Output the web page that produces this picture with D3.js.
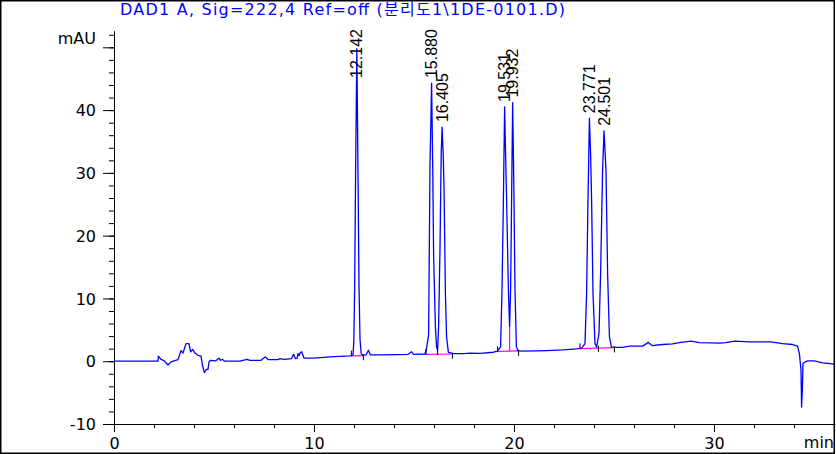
<!DOCTYPE html>
<html>
<head>
<meta charset="utf-8">
<script src="https://cdn.jsdelivr.net/npm/d3@7"></script>
<style>
  body { margin: 0; background: #fff; }
  svg { display: block; }
</style>
</head>
<body>
<svg id="chart" width="836" height="454"></svg>
<script>
// Chromatogram trace: [time (min), signal (mAU)]
const trace = [
    [0, 0], [2.2, 0], [2.22, 0.8], [2.35, 0.3], [2.5, 0.1], [2.7, -0.6], [2.85, -0.1], [3.2, 0.25],
    [3.35, 1.7], [3.45, 1.3], [3.6, 2.8], [3.75, 2.8], [3.83, 1.5], [3.93, 1.9], [4.05, 1.3], [4.2, 0.95],
    [4.35, 0.8], [4.42, -0.6], [4.52, -1.8], [4.62, -1.3], [4.7, -1.3], [4.75, -0.1], [4.83, 0.15],
    [5.08, 0.05], [5.25, 0.5], [5.33, 0.15], [5.42, 0.3], [5.53, 0], [6.3, 0], [6.65, 0.3], [6.8, 0.15],
    [7.35, 0.15], [7.57, 0.7], [7.7, 0.27], [8.2, 0.27], [8.3, 0.4], [8.5, 0.3], [8.87, 0.4], [8.98, 1.1],
    [9.07, 0.4], [9.15, 0.45], [9.2, 1.2], [9.26, 0.9], [9.3, 1.3], [9.38, 1.5], [9.5, 0.5], [10.0, 0.5],
    [10.8, 0.7], [11.8, 0.85],
    [11.95, 1.0], [11.99, 3], [12.03, 11], [12.08, 30], [12.142, 49.8], [12.2, 30], [12.25, 12],
    [12.3, 3.5], [12.36, 1.2], [12.45, 0.95],
    [12.6, 1.0], [12.72, 1.75], [12.82, 1.0], [13.3, 1.0], [14.1, 1.05], [14.7, 1.1], [14.88, 1.5],
    [14.98, 1.1], [15.55, 1.15],
    [15.63, 2.1], [15.73, 4.2], [15.8, 31], [15.88, 44.3], [15.94, 30], [15.98, 17], [16.07, 5.5],
    [16.13, 2.2], [16.18, 1.8], [16.23, 5.5], [16.3, 18], [16.36, 33], [16.405, 37.3], [16.46, 33],
    [16.5, 27.8], [16.57, 10.8], [16.63, 3.8], [16.72, 1.4], [16.97, 1.2],
    [17.5, 1.22], [17.8, 1.3], [18.3, 1.25], [18.97, 1.43], [19.17, 1.6],
    [19.33, 2.3], [19.4, 11.3], [19.47, 25.7], [19.531, 40.5], [19.58, 33], [19.63, 25.7], [19.72, 11.3],
    [19.78, 5.5], [19.83, 11.3], [19.88, 25.7], [19.932, 41.2], [19.97, 33], [20.0, 25.7], [20.05, 11.3],
    [20.12, 2.3], [20.2, 1.7], [20.38, 1.6],
    [21.13, 1.65], [21.63, 1.7], [22.47, 1.8], [23.13, 1.97], [23.38, 2.1],
    [23.55, 2.8], [23.63, 10.8], [23.7, 25.7], [23.771, 38.7], [23.83, 33], [23.88, 25.7], [23.95, 10.8],
    [24.05, 2.8], [24.13, 2.3], [24.25, 4.4], [24.33, 14], [24.43, 30.4], [24.501, 36.7], [24.6, 30.4],
    [24.68, 14], [24.77, 3.9], [24.87, 2.3], [25.1, 2.2], [25.43, 2.2], [25.77, 2.4],
    [26.43, 2.4], [26.72, 3.0], [26.9, 2.5], [27.43, 2.66], [27.93, 2.76], [28.27, 2.97], [28.85, 3.19],
    [29.27, 2.97], [30.27, 2.87], [30.6, 2.97], [31.02, 3.19], [31.77, 3.08], [32.85, 3.08], [33.43, 2.81],
    [33.93, 2.66], [34.18, 2.4], [34.27, 1.22], [34.35, -1.43], [34.38, -7.3], [34.42, -4.35],
    [34.45, -0.37], [34.57, -0.1], [34.68, 0.05], [35.02, 0.05], [35.43, -0.26], [36.1, -0.48]
];

// Retention times printed above the peaks and their apex heights
const peakTimes = ["12.142", "15.880", "16.405", "19.531", "19.932", "23.771", "24.501"];
const peakHeights = [49.8, 44.3, 37.3, 40.5, 41.2, 38.7, 36.7];

// Integration baselines (magenta) and drop lines between split peaks
const baselines = [
    [[11.87, 0.85], [12.45, 0.9]],
    [[15.6, 1.1], [16.92, 1.15]],
    [[19.18, 1.55], [20.23, 1.65]],
    [[23.3, 2.0], [25.02, 2.15]]
];
const dropLines = [[19.78, 5.5, 1.6], [24.13, 2.3, 2.07]];

// Peak start (tick up) and end / valley (tick down) marks
const startMarks = [[11.87, 0.9], [15.6, 1.15], [19.18, 1.6], [23.3, 2.05]];
const endMarks = [[12.47, 0.95], [16.18, 1.8], [16.92, 1.2], [20.23, 1.65], [24.22, 2.3], [25.02, 2.2]];

// Axis ticks
const yMajor = [-10, 0, 10, 20, 30, 40, 50];
const yLabels = [-10, 0, 10, 20, 30, 40];
const yMinor = d3.range(-10, 53, 2);
const xMajor = [0, 10, 20, 30];
const xMinor = d3.range(0, 37, 2);

const titleText = "DAD1 A, Sig=222,4 Ref=off (분리도1\\1DE-0101.D)";

const width = 836, height = 454;
const font = "'DejaVu Sans', 'Noto Sans CJK KR', sans-serif";

const svg = d3.select("#chart");

svg.append("rect")
    .attr("x", 0).attr("y", 0)
    .attr("width", width).attr("height", height)
    .attr("fill", "#fff");

const x = d3.scaleLinear().domain([0, 36.05]).range([114, 835]);
const y = d3.scaleLinear().domain([-10, 52.6]).range([424, 31]);

// title
svg.append("text")
    .attr("x", 120)
    .attr("y", 15)
    .attr("font-family", font)
    .attr("font-size", "16px")
    .attr("fill", "#0000ff")
    .attr("textLength", 445)
    .attr("lengthAdjust", "spacing")
    .text(titleText);

// y axis: minor ticks, then major ticks with labels
svg.append("g")
    .attr("transform", "translate(114,0)")
    .call(d3.axisLeft(y).tickValues(yMinor).tickSize(5).tickSizeOuter(0).tickFormat(""))
    .call(g => g.select(".domain").attr("stroke", "#000"));

const yAxis = svg.append("g")
    .attr("transform", "translate(114,0)")
    .call(d3.axisLeft(y).tickValues(yMajor).tickSize(11).tickSizeOuter(0).tickPadding(7)
        .tickFormat(d => yLabels.includes(d) ? d : ""));
yAxis.selectAll("text")
    .attr("font-family", font)
    .attr("font-size", "16px")
    .attr("fill", "#000")
    .attr("dy", "0.36em");

svg.append("text")
    .attr("x", 96)
    .attr("y", 44)
    .attr("text-anchor", "end")
    .attr("font-family", font)
    .attr("font-size", "16px")
    .text("mAU");

// x axis
svg.append("g")
    .attr("transform", "translate(0,424)")
    .call(d3.axisBottom(x).tickValues(xMinor).tickSize(4).tickSizeOuter(0).tickFormat(""));

const xAxis = svg.append("g")
    .attr("transform", "translate(0,424)")
    .call(d3.axisBottom(x).tickValues(xMajor).tickSize(8).tickSizeOuter(0).tickPadding(6));
xAxis.selectAll("text")
    .attr("font-family", font)
    .attr("font-size", "16px")
    .attr("fill", "#000");
xAxis.select(".domain").remove();

svg.append("text")
    .attr("x", 834)
    .attr("y", 448)
    .attr("text-anchor", "end")
    .attr("font-family", font)
    .attr("font-size", "16px")
    .text("min");

// clip the plot region
svg.append("clipPath").attr("id", "plot-clip")
    .append("rect")
    .attr("x", 114).attr("y", 20)
    .attr("width", 721).attr("height", 410);

const plot = svg.append("g").attr("clip-path", "url(#plot-clip)");

const line = d3.line()
    .x(d => x(d[0]))
    .y(d => y(d[1]));

// magenta integration baselines
plot.selectAll(".base")
    .data(baselines)
    .enter()
    .append("path")
    .attr("class", "base")
    .attr("d", line)
    .attr("fill", "none")
    .attr("stroke", "#ff00ff")
    .attr("stroke-width", 1.2);

plot.selectAll(".drop")
    .data(dropLines)
    .enter()
    .append("line")
    .attr("class", "drop")
    .attr("x1", d => x(d[0])).attr("x2", d => x(d[0]))
    .attr("y1", d => y(d[1])).attr("y2", d => y(d[2]))
    .attr("stroke", "#ff00ff")
    .attr("stroke-width", 1.2);

// the signal
plot.append("path")
    .datum(trace)
    .attr("d", line)
    .attr("fill", "none")
    .attr("stroke", "#0000ff")
    .attr("stroke-width", 1.3)
    .attr("stroke-linejoin", "round");

// start / end markers
plot.selectAll(".smark")
    .data(startMarks)
    .enter()
    .append("line")
    .attr("x1", d => x(d[0])).attr("x2", d => x(d[0]))
    .attr("y1", d => y(d[1]) + 1).attr("y2", d => y(d[1]) - 5)
    .attr("stroke", "#000");

plot.selectAll(".emark")
    .data(endMarks)
    .enter()
    .append("line")
    .attr("x1", d => x(d[0])).attr("x2", d => x(d[0]))
    .attr("y1", d => y(d[1]) - 1).attr("y2", d => y(d[1]) + 5)
    .attr("stroke", "#000");

// rotated retention time labels above each apex, pushed down if they would leave the top
peakTimes.forEach((t, i) => {
    const px = x(+t);
    const label = svg.append("text")
        .attr("font-family", "'Liberation Sans', Arial, sans-serif")
        .attr("font-size", "16px")
        .attr("fill", "#000")
        .attr("dy", "0.35em")
        .text(t);
    const len = label.node().getComputedTextLength();
    const py = Math.max(y(peakHeights[i]) - 5, 29 + len);
    label.attr("transform", `translate(${px},${py}) rotate(-90)`);
});

// outer frame
svg.append("rect")
    .attr("x", 0.75).attr("y", 0.75)
    .attr("width", width - 2.5).attr("height", height - 1.5)
    .attr("fill", "none")
    .attr("stroke", "#000")
    .attr("stroke-width", 1.5);
</script>
</body>
</html>
